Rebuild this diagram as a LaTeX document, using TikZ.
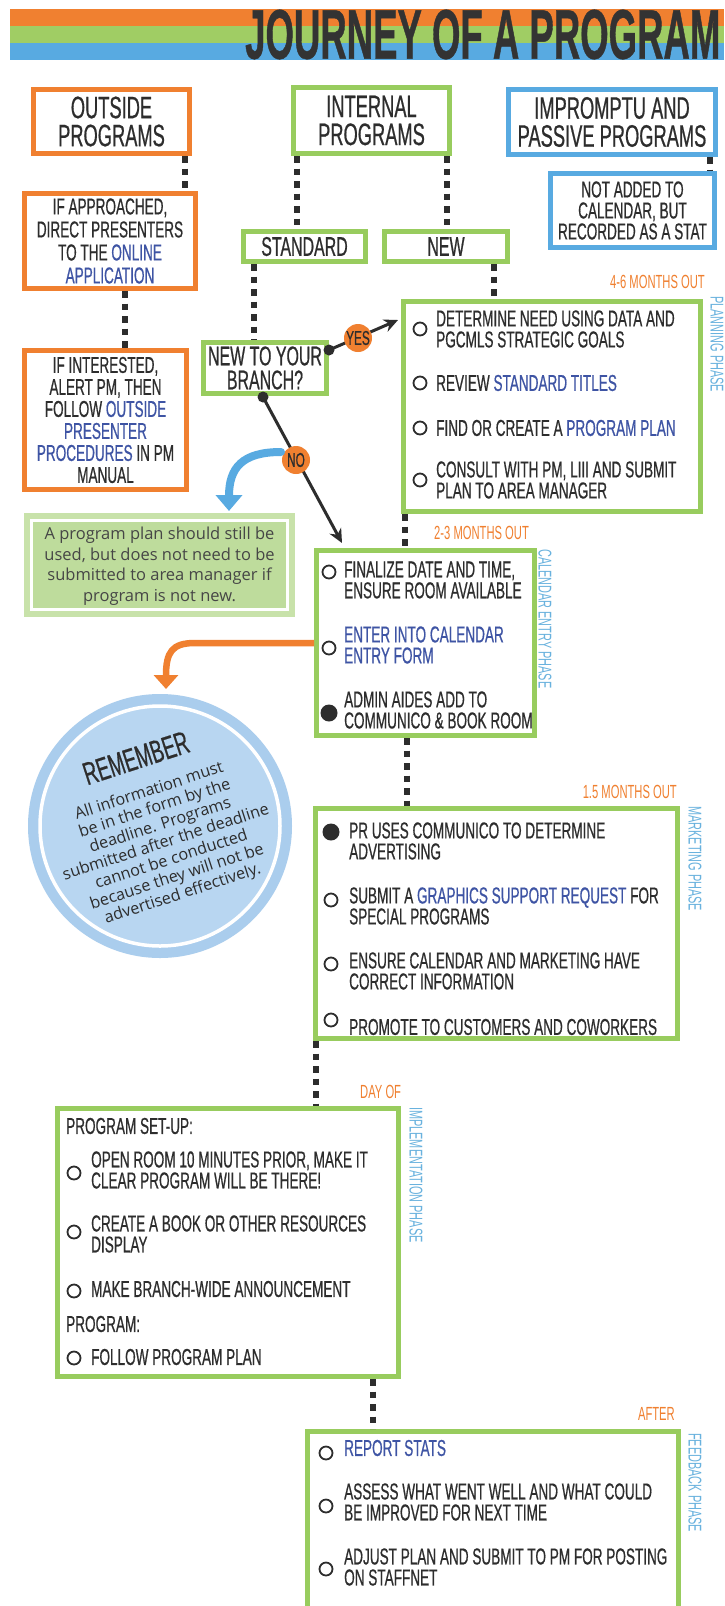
\documentclass[tikz,border=0pt]{standalone}
\usepackage{fontspec}
\setmainfont{Liberation Sans}[FakeStretch=0.59, FakeBold=0.6]
\newfontfamily\thin{Liberation Sans}[FakeStretch=0.59]
\newfontfamily\os{Open Sans}
\usetikzlibrary{arrows.meta}
\definecolor{org}{RGB}{240,128,48}
\definecolor{grn}{RGB}{152,204,94}
\definecolor{grns}{RGB}{160,205,100}
\definecolor{blu}{RGB}{88,170,225}
\definecolor{lnk}{RGB}{62,84,164}
\definecolor{ink}{RGB}{45,45,45}
\definecolor{ttl}{RGB}{51,51,51}
\definecolor{phs}{RGB}{105,178,222}
\definecolor{notebg}{RGB}{200,226,170}
\definecolor{notein}{RGB}{190,220,156}
\definecolor{notetxt}{RGB}{70,70,70}
\definecolor{remA}{RGB}{170,205,237}
\definecolor{remB}{RGB}{184,214,241}
\newcommand\fbody{\fontsize{23}{21}\selectfont}
\newcommand\fhead{\fontsize{31}{28}\selectfont}
\newcommand\fmid{\fontsize{27}{24}\selectfont}
\newcommand\flab{\thin\fontsize{19}{19}\selectfont}
\newcommand\fphase{\thin\fontsize{18.5}{18.5}\selectfont}
\newcommand\lk[1]{\textcolor{lnk}{#1}}
\begin{document}
\begin{tikzpicture}[x=1pt,y=-1pt,
  every node/.style={text=ink},
  bx/.style={draw, line width=5pt, fill=white, inner sep=0pt, align=center},
  obox/.style={bx, draw=org},
  gbox/.style={bx, draw=grn},
  bbox/.style={bx, draw=blu},
  dotline/.style={ink, line width=5.5pt, dash pattern=on 6.5pt off 6pt},
  ocirc/.style={circle, draw=ink, line width=1.8pt, minimum size=13pt, inner sep=0pt},
  fcirc/.style={circle, fill=ink, minimum size=17pt, inner sep=0pt},
  item/.style={anchor=west, align=left, font=\fbody, inner sep=0pt},
  mlabel/.style={text=org, font=\flab, inner sep=0pt},
  plabel/.style={text=phs, font=\fphase, rotate=-90, anchor=west, inner sep=0pt},
  ynbadge/.style={circle, fill=org, minimum size=28pt, inner sep=0pt, font=\fontsize{20}{20}\selectfont},
]
\useasboundingbox (0,0) rectangle (724,1606);
\clip (0,0) rectangle (724,1606);
\fill[white] (0,0) rectangle (724,1606);

% header
\fill[org] (10,9) rectangle (724,25.5);
\fill[grns] (10,25.5) rectangle (724,43);
\fill[blu] (10,43) rectangle (724,60);
\node[anchor=west, inner sep=0pt, text=ttl] (title) at (245,34.5) {\resizebox{475pt}{49pt}{\bfseries JOURNEY OF A PROGRAM}};

% top boxes
\node[obox, minimum width=156, minimum height=64, font=\fhead] (outside) at (111.5,121.5) {OUTSIDE\\PROGRAMS};
\node[gbox, minimum width=156, minimum height=66, font=\fhead] (internal) at (371.5,120.5) {INTERNAL\\PROGRAMS};
\node[bbox, minimum width=207, minimum height=65, font=\fhead] (impromptu) at (612,122) {IMPROMPTU AND\\PASSIVE PROGRAMS};
\node[bbox, minimum width=164, minimum height=74, font=\fbody] (notadded) at (632.5,210.5) {NOT ADDED TO\\CALENDAR, BUT\\RECORDED AS A STAT};
\node[obox, minimum width=171, minimum height=95, font=\fontsize{23}{23}\selectfont] (ifapp) at (110,241) {IF APPROACHED,\\DIRECT PRESENTERS\\TO THE \lk{ONLINE}\\\lk{APPLICATION}};
\node[gbox, minimum width=122, minimum height=30, font=\fmid] (standard) at (304.5,246.5) {STANDARD};
\node[gbox, minimum width=123, minimum height=30, font=\fmid] (new) at (446,246.5) {NEW};
\node[obox, minimum width=162, minimum height=139, font=\fontsize{23}{22}\selectfont] (ifint) at (105.5,420) {IF INTERESTED,\\ALERT PM, THEN\\FOLLOW \lk{OUTSIDE}\\\lk{PRESENTER}\\\lk{PROCEDURES} IN PM\\MANUAL};
\node[gbox, minimum width=123, minimum height=51, font=\fmid] (branch) at (265,368) {NEW TO YOUR\\BRANCH?};

% phase boxes
\node[gbox, minimum width=297, minimum height=210] (planning) at (552,406.5) {};
\node[gbox, minimum width=218, minimum height=185] (calendar) at (425.5,643) {};
\node[gbox, minimum width=362, minimum height=230] (marketing) at (496.5,923.5) {};
\node[gbox, minimum width=341, minimum height=268] (impl) at (228,1242.5) {};
\node[gbox, minimum width=371, minimum height=220] (feedback) at (493,1541.5) {};

% dotted connectors
\coordinate (c1) at ([xshift=73.5pt]outside.south);
\draw[dotline] (c1) -- (c1 |- ifapp.north);
\coordinate (c2) at ([xshift=-74.5pt]internal.south);
\draw[dotline] (c2) -- (c2 |- standard.north);
\coordinate (c3) at ([xshift=75.5pt]internal.south);
\draw[dotline] (c3) -- (c3 |- new.north);
\coordinate (c4) at ([xshift=98pt]impromptu.south);
\draw[dotline] (c4) -- (c4 |- notadded.north);
\coordinate (c5) at ([xshift=15pt]ifapp.south);
\draw[dotline] (c5) -- (c5 |- ifint.north);
\coordinate (c6) at ([xshift=-50.5pt]standard.south);
\draw[dotline] (c6) -- (c6 |- branch.north);
\coordinate (c7) at ([xshift=48pt]new.south);
\draw[dotline] (c7) -- (c7 |- planning.north);
\coordinate (c8) at ([xshift=-147pt]planning.south);
\draw[dotline] (c8) -- (c8 |- calendar.north);
\coordinate (c9) at ([xshift=-18.5pt]calendar.south);
\draw[dotline] (c9) -- (c9 |- marketing.north);
\coordinate (c10) at ([xshift=-180.5pt]marketing.south);
\draw[dotline] (c10) -- (c10 |- impl.north);
\coordinate (c11) at ([xshift=145pt]impl.south);
\draw[dotline] (c11) -- (c11 |- feedback.north);

% timing labels
\node[mlabel, anchor=east] (l46) at (705,282) {4-6 MONTHS OUT};
\node[mlabel, anchor=west] (l23) at (434,533) {2-3 MONTHS OUT};
\node[mlabel, anchor=east] (l15) at (677,792) {1.5 MONTHS OUT};
\node[mlabel, anchor=west] (lday) at (360,1092) {DAY OF};
\node[mlabel, anchor=east] (lafter) at (675,1414) {AFTER};

% phase labels
\node[plabel] (pplan) at (717,296) {PLANNING PHASE};
\node[plabel] (pcal) at (545,549) {CALENDAR ENTRY PHASE};
\node[plabel] (pmkt) at (695,806) {MARKETING PHASE};
\node[plabel] (pimp) at (416,1107) {IMPLEMENTATION PHASE};
\node[plabel] (pfb) at (695,1433) {FEEDBACK PHASE};

% planning items
\node[ocirc] (p1c) at (420,329) {};
\node[item] (p1) at (436,329) {DETERMINE NEED USING DATA AND\\PGCMLS STRATEGIC GOALS};
\node[ocirc] (p2c) at (420,383) {};
\node[item] (p2) at (436,383) {REVIEW \lk{STANDARD TITLES}};
\node[ocirc] (p3c) at (420,428) {};
\node[item] (p3) at (436,428) {FIND OR CREATE A \lk{PROGRAM PLAN}};
\node[ocirc] (p4c) at (420,480) {};
\node[item] (p4) at (436,480) {CONSULT WITH PM, LIII AND SUBMIT\\PLAN TO AREA MANAGER};

% calendar items
\node[ocirc] (k1c) at (329,572) {};
\node[item] (k1) at (344,580) {FINALIZE DATE AND TIME,\\ENSURE ROOM AVAILABLE};
\node[ocirc] (k2c) at (329,648) {};
\node[item] (k2) at (344,645) {\lk{ENTER INTO CALENDAR}\\\lk{ENTRY FORM}};
\node[fcirc] (k3c) at (329,713) {};
\node[item] (k3) at (344,710) {ADMIN AIDES ADD TO\\COMMUNICO \& BOOK ROOM};

% marketing items
\node[fcirc] (m1c) at (331,832) {};
\node[item] (m1) at (349,841) {PR USES COMMUNICO TO DETERMINE\\ADVERTISING};
\node[ocirc] (m2c) at (331,900) {};
\node[item] (m2) at (349,906) {SUBMIT A \lk{GRAPHICS SUPPORT REQUEST} FOR\\SPECIAL PROGRAMS};
\node[ocirc] (m3c) at (331,964) {};
\node[item] (m3) at (349,971) {ENSURE CALENDAR AND MARKETING HAVE\\CORRECT INFORMATION};
\node[ocirc] (m4c) at (331,1020) {};
\node[item] (m4) at (349,1027) {PROMOTE TO CUSTOMERS AND COWORKERS};

% implementation items
\node[item] (setup) at (66,1126) {PROGRAM SET-UP:};
\node[ocirc] (i1c) at (74,1173) {};
\node[item] (i1) at (91,1170) {OPEN ROOM 10 MINUTES PRIOR, MAKE IT\\CLEAR PROGRAM WILL BE THERE!};
\node[ocirc] (i2c) at (74,1232) {};
\node[item] (i2) at (91,1234) {CREATE A BOOK OR OTHER RESOURCES\\DISPLAY};
\node[ocirc] (i3c) at (74,1291) {};
\node[item] (i3) at (91,1289) {MAKE BRANCH-WIDE ANNOUNCEMENT};
\node[item] (prog) at (66,1324) {PROGRAM:};
\node[ocirc] (i4c) at (74,1358) {};
\node[item] (i4) at (91,1357) {FOLLOW PROGRAM PLAN};

% feedback items
\node[ocirc] (f1c) at (326,1453) {};
\node[item] (f1) at (344,1448) {\lk{REPORT STATS}};
\node[ocirc] (f2c) at (326,1506) {};
\node[item] (f2) at (344,1502) {ASSESS WHAT WENT WELL AND WHAT COULD\\BE IMPROVED FOR NEXT TIME};
\node[ocirc] (f3c) at (326,1569) {};
\node[item] (f3) at (344,1567) {ADJUST PLAN AND SUBMIT TO PM FOR POSTING\\ON STAFFNET};

% note box
\node[fill=notebg, minimum width=271pt, minimum height=104pt, inner sep=0pt] (note) at (159.5,565) {};
\draw[white, line width=3pt, fill=notein] (31.5,520.5) rectangle (287.5,609.5);
\node[align=center, font=\os\fontsize{16.5}{20.5}\selectfont, text=notetxt] (notetext) at (159.5,566) {A program plan should still be\\used, but does not need to be\\submitted to area manager if\\program is not new.};

% yes / no arrows
\node[fcirc, minimum size=11pt] (ydot) at (329,350) {};
\coordinate (ytip) at (398,320);
\draw[ink, line width=3pt, -{Stealth[length=14pt,width=13pt]}] (ydot.center) -- (ytip);
\node[ynbadge] (yes) at (358,338) {YES};
\node[fcirc, minimum size=11pt] (ndot) at (263,397) {};
\coordinate (ntip) at (342,543);
\draw[ink, line width=3pt, -{Stealth[length=14pt,width=13pt]}] (ndot.center) -- (ntip);
\node[ynbadge] (no) at (296,460) {NO};

% blue curved arrow
\coordinate (bs) at (281,452);
\coordinate (be) at (229,511);
\draw[blu, line width=8pt, line cap=round, -{Triangle[length=16pt,width=26pt]}] (bs) .. controls (242,452) and (229,468) .. (be);

% orange curved arrow
\coordinate (oe) at (166,689);
\draw[org, line width=6.5pt, -{Triangle[length=14pt,width=24pt]}] (calendar.west) -- (195,643) .. controls (172,643) and (166,652) .. (oe);

% remember circle
\node[circle, fill=remA, minimum size=264pt, inner sep=0pt] (remcirc) at (160,826) {};
\fill[remB] (remcirc.center) circle[radius=119pt];
\draw[white, line width=3.5pt] (remcirc.center) circle[radius=120pt];
\node[rotate=18, font=\fontsize{32}{32}\selectfont] (remtitle) at (136,758) {REMEMBER};
\node[rotate=18, align=center, font=\os\fontsize{16.2}{18}\selectfont] (remtext) at (166,843) {All information must\\be in the form by the\\deadline. Programs\\submitted after the deadline\\cannot be conducted\\because they will not be\\advertised effectively.};
\end{tikzpicture}
\end{document}
